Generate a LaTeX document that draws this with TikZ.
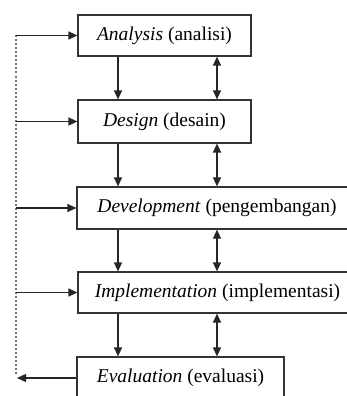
\documentclass[tikz,border=0pt]{standalone}
\usepackage{fontspec}
\setmainfont{Liberation Serif}
\usetikzlibrary{arrows.meta}

\begin{document}
\begin{tikzpicture}[x=1pt,y=-1pt,
  >={Triangle[length=9pt,width=8pt]},
  phase/.style={draw=black!80,line width=1.2pt,inner sep=0pt,
    font=\fontsize{19.5}{22}\selectfont},
  flow/.style={->,line width=1.3pt,black!85}]
\useasboundingbox (0,0) rectangle (347,396);
\clip (0,0) rectangle (347,396);

% the five phases
\node[phase,minimum width=173,minimum height=41] (ana) at (164.5,35.5) {\textit{Analysis} (analisi)};
\node[phase,minimum width=173,minimum height=43] (des) at (164.5,121.5) {\textit{Design} (desain)};
\node[phase,minimum width=280,minimum height=42] (dev) at (217,208) {\textit{Development} (pengembangan)};
\node[phase,minimum width=279,minimum height=41] (imp) at (217.5,292.5) {\textit{Implementation} (implementasi)};
\node[phase,minimum width=207,minimum height=42] (eva) at (180.5,378) {\textit{Evaluation} (evaluasi)};

% columns of the arrows
\coordinate (xl) at (118,0);
\coordinate (xr) at (217,0);
\coordinate (fb) at (16,0);

% down and back-and-forth
\foreach \a/\b in {ana/des,des/dev,dev/imp,imp/eva}{
  \draw[flow] (\a.south -| xl) -- (\b.north -| xl);
  \draw[flow,<->] (\a.south -| xr) -- (\b.north -| xr);
}

% feedback from evaluation
\draw[black!55,line width=1.3pt,dash pattern=on 2pt off 2pt] (ana.west -| fb) -- ([yshift=4pt]eva.west -| fb);
\foreach \p in {ana,des,dev,imp}
  \draw[flow] (\p.west -| fb) -- (\p.west);
\draw[flow] (eva.west) -- ([xshift=1pt]eva.west -| fb);
\end{tikzpicture}
\end{document}
